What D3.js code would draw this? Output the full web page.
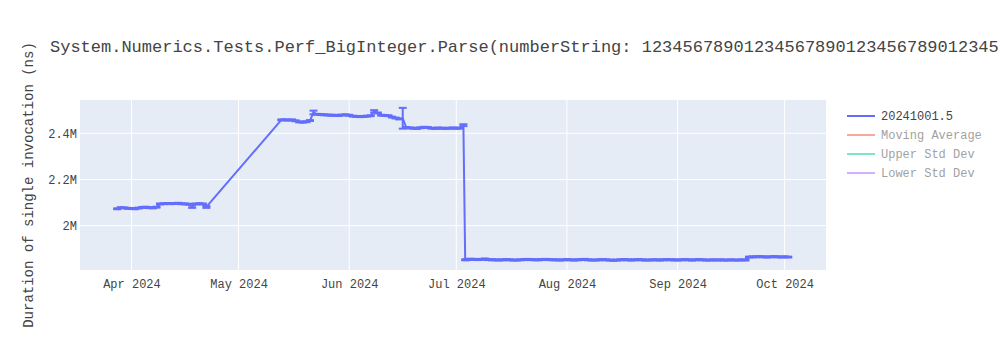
<!DOCTYPE html>
<html>
<head>
<meta charset="utf-8">
<script src="https://cdn.jsdelivr.net/npm/d3@7"></script>
<style>
  body { margin: 0; background: #fff; }
  svg { font-family: "Liberation Mono", "Courier New", monospace; }
</style>
</head>
<body>
<svg width="1000" height="350"></svg>
<script>
const margin = {t: 100, r: 174, b: 80, l: 80};
const size = {w: 1000, h: 350};
const svg = d3.select('svg');

// run dates and mean durations (in millions of ns), with error half widths
const dates = [
  '2024-03-28','2024-03-29','2024-03-30','2024-03-31','2024-04-01','2024-04-02','2024-04-03',
  '2024-04-04','2024-04-05','2024-04-06','2024-04-07','2024-04-08','2024-04-09','2024-04-10','2024-04-11',
  '2024-04-12','2024-04-13','2024-04-14','2024-04-15','2024-04-16','2024-04-17','2024-04-18','2024-04-19',
  '2024-04-20','2024-04-21','2024-04-22',
  '2024-05-13','2024-05-14','2024-05-15','2024-05-16','2024-05-17','2024-05-18','2024-05-19','2024-05-20',
  '2024-05-21','2024-05-22','2024-05-23','2024-05-24','2024-05-25','2024-05-26','2024-05-27','2024-05-28',
  '2024-05-29','2024-05-30','2024-05-31','2024-06-01','2024-06-02','2024-06-03','2024-06-04','2024-06-05',
  '2024-06-06','2024-06-07','2024-06-08','2024-06-09','2024-06-10','2024-06-11','2024-06-12','2024-06-13',
  '2024-06-14','2024-06-15','2024-06-16','2024-06-17','2024-06-18','2024-06-19','2024-06-20','2024-06-21',
  '2024-06-22','2024-06-23','2024-06-24','2024-06-25','2024-06-26','2024-06-27','2024-06-28','2024-06-29',
  '2024-06-30','2024-07-01','2024-07-02','2024-07-03',
  '2024-07-03T12:00','2024-07-04','2024-07-05','2024-07-06','2024-07-07','2024-07-08','2024-07-09','2024-07-10',
  '2024-07-11','2024-07-12','2024-07-13','2024-07-14','2024-07-15','2024-07-16','2024-07-17','2024-07-18',
  '2024-07-19','2024-07-20','2024-07-21','2024-07-22','2024-07-23','2024-07-24','2024-07-25','2024-07-26',
  '2024-07-27','2024-07-28','2024-07-29','2024-07-30','2024-07-31','2024-08-01','2024-08-02','2024-08-03',
  '2024-08-04','2024-08-05','2024-08-06','2024-08-07','2024-08-08','2024-08-09','2024-08-10','2024-08-11',
  '2024-08-12','2024-08-13','2024-08-14','2024-08-15','2024-08-16','2024-08-17','2024-08-18','2024-08-19',
  '2024-08-20','2024-08-21','2024-08-22','2024-08-23','2024-08-24','2024-08-25','2024-08-26','2024-08-27',
  '2024-08-28','2024-08-29','2024-08-30','2024-08-31','2024-09-01','2024-09-02','2024-09-03','2024-09-04',
  '2024-09-05','2024-09-06','2024-09-07','2024-09-08','2024-09-09','2024-09-10','2024-09-11','2024-09-12',
  '2024-09-13','2024-09-14','2024-09-15','2024-09-16','2024-09-17','2024-09-18','2024-09-19','2024-09-20',
  '2024-09-21','2024-09-22','2024-09-23','2024-09-24','2024-09-25','2024-09-26','2024-09-27','2024-09-28',
  '2024-09-29','2024-09-30','2024-10-01','2024-10-02'
];
const values = [
  2.073,2.078,2.077,2.075,2.074,2.073,2.076,
  2.079,2.080,2.078,2.077,2.080,2.094,2.095,2.096,
  2.095,2.096,2.097,2.095,2.094,2.093,2.082,2.094,
  2.095,2.094,2.081,
  2.458,2.458,2.457,2.458,2.454,2.449,2.448,2.450,
  2.455,2.490,2.482,2.481,2.480,2.479,2.478,2.478,
  2.477,2.479,2.480,2.478,2.474,2.473,2.472,2.473,
  2.474,2.476,2.495,2.488,2.478,2.477,2.476,2.470,
  2.466,2.462,2.465,2.425,2.423,2.422,2.421,2.424,
  2.426,2.425,2.422,2.421,2.423,2.422,2.421,2.422,
  2.423,2.422,2.422,2.435,
  1.852,1.853,1.855,1.854,1.853,1.854,1.856,1.853,
  1.852,1.852,1.851,1.852,1.853,1.852,1.851,1.851,
  1.852,1.853,1.854,1.853,1.852,1.852,1.853,1.854,
  1.853,1.852,1.852,1.851,1.852,1.853,1.852,1.851,
  1.852,1.853,1.854,1.852,1.851,1.851,1.852,1.853,
  1.852,1.851,1.850,1.851,1.852,1.853,1.852,1.851,
  1.852,1.853,1.852,1.851,1.851,1.852,1.852,1.851,
  1.852,1.853,1.852,1.852,1.851,1.852,1.853,1.852,
  1.851,1.852,1.853,1.852,1.851,1.851,1.852,1.851,
  1.852,1.851,1.851,1.852,1.851,1.851,1.852,1.851,
  1.864,1.865,1.865,1.866,1.865,1.864,1.865,1.866,
  1.865,1.864,1.865,1.864
];
const errors = dates.map(d => {
  // most runs have a very tight spread, a few noisy ones stand out
  if (d === '2024-06-16') return 0.045;
  if (d === '2024-05-22') return 0.008;
  if (d === '2024-06-08') return 0.005;
  if (d === '2024-04-18') return 0.005;
  if (d === '2024-04-22') return 0.004;
  if (d === '2024-07-03') return 0.004;
  return 0.002;
});

const yTicks = [2.0, 2.2, 2.4];
const legendNames = ['20241001.5', 'Moving Average', 'Upper Std Dev', 'Lower Std Dev'];
const legendColors = ['#636efa', '#EF553B', '#00cc96', '#ab63fa'];

const parse = d3.isoParse;
const data = dates.map((d, i) => ({date: parse(d), value: values[i], err: errors[i]}));

const x = d3.scaleTime()
  .domain([parse('2024-03-17T14:00'), parse('2024-10-12T14:00')])
  .range([margin.l, size.w - margin.r]);
const y = d3.scaleLinear()
  .domain([1.808, 2.544])
  .range([size.h - margin.b, margin.t]);

// plot background
svg.append('rect')
  .attr('x', margin.l).attr('y', margin.t)
  .attr('width', size.w - margin.r - margin.l)
  .attr('height', size.h - margin.b - margin.t)
  .attr('fill', '#e5ecf6');

// grid
const xTicks = d3.timeMonth.range(parse('2024-04-01'), parse('2024-10-02'));
svg.append('g').selectAll('line')
  .data(xTicks)
  .join('line')
  .attr('x1', d => x(d)).attr('x2', d => x(d))
  .attr('y1', margin.t).attr('y2', size.h - margin.b)
  .attr('stroke', '#fff').attr('stroke-width', 1);
svg.append('g').selectAll('line')
  .data(yTicks)
  .join('line')
  .attr('x1', margin.l).attr('x2', size.w - margin.r)
  .attr('y1', d => y(d)).attr('y2', d => y(d))
  .attr('stroke', '#fff').attr('stroke-width', 1);

// axes
const xAxis = svg.append('g')
  .attr('transform', `translate(0,${size.h - margin.b})`)
  .call(d3.axisBottom(x).tickValues(xTicks).tickFormat(d3.timeFormat('%b %Y')).tickSize(0).tickPadding(9));
const yAxis = svg.append('g')
  .attr('transform', `translate(${margin.l},0)`)
  .call(d3.axisLeft(y).tickValues(yTicks).tickFormat(d => d3.format('~s')(d * 1e6)).tickSize(0).tickPadding(3));
[xAxis, yAxis].forEach(a => {
  a.select('.domain').remove();
  a.selectAll('text').attr('fill', '#444').style('font-size', '12px')
    .style('font-family', '"Liberation Mono", "Courier New", monospace');
});

// error bars
const errG = svg.append('g').attr('stroke', '#636efa').attr('stroke-width', 2);
errG.selectAll('line.stem')
  .data(data)
  .join('line')
  .attr('class', 'stem')
  .attr('x1', d => x(d.date)).attr('x2', d => x(d.date))
  .attr('y1', d => y(d.value - d.err)).attr('y2', d => y(d.value + d.err));
['top', 'bot'].forEach(k => {
  errG.selectAll('line.' + k)
    .data(data)
    .join('line')
    .attr('class', k)
    .attr('x1', d => x(d.date) - 4).attr('x2', d => x(d.date) + 4)
    .attr('y1', d => y(k === 'top' ? d.value + d.err : d.value - d.err))
    .attr('y2', d => y(k === 'top' ? d.value + d.err : d.value - d.err));
});

// series line
svg.append('path')
  .datum(data)
  .attr('fill', 'none')
  .attr('stroke', '#636efa')
  .attr('stroke-width', 2)
  .attr('stroke-linejoin', 'round')
  .attr('d', d3.line().x(d => x(d.date)).y(d => y(d.value)));

// title (only the part that fits the page is shown in the original)
svg.append('text')
  .attr('x', 50).attr('y', 52)
  .attr('fill', '#444')
  .style('font-size', '17px')
  .text('System.Numerics.Tests.Perf_BigInteger.Parse(numberString: 12345678901234567890123456789012345');

// y axis title
svg.append('text')
  .attr('transform', `translate(33,${(margin.t + size.h - margin.b) / 2}) rotate(-90)`)
  .attr('text-anchor', 'middle')
  .attr('fill', '#444')
  .style('font-size', '14px')
  .text('Duration of single invocation (ns)');

// legend
const legend = svg.append('g').attr('transform', 'translate(847,116)');
legendNames.forEach((d, i) => {
  const g = legend.append('g')
    .attr('transform', `translate(0,${i * 19})`)
    .attr('opacity', i === 0 ? 1 : 0.5);
  g.append('line')
    .attr('x1', 0).attr('x2', 28)
    .attr('stroke', legendColors[i]).attr('stroke-width', 2);
  g.append('text')
    .attr('x', 34).attr('y', 4)
    .attr('fill', '#444')
    .style('font-size', '12px')
    .text(d);
});
</script>
</body>
</html>
